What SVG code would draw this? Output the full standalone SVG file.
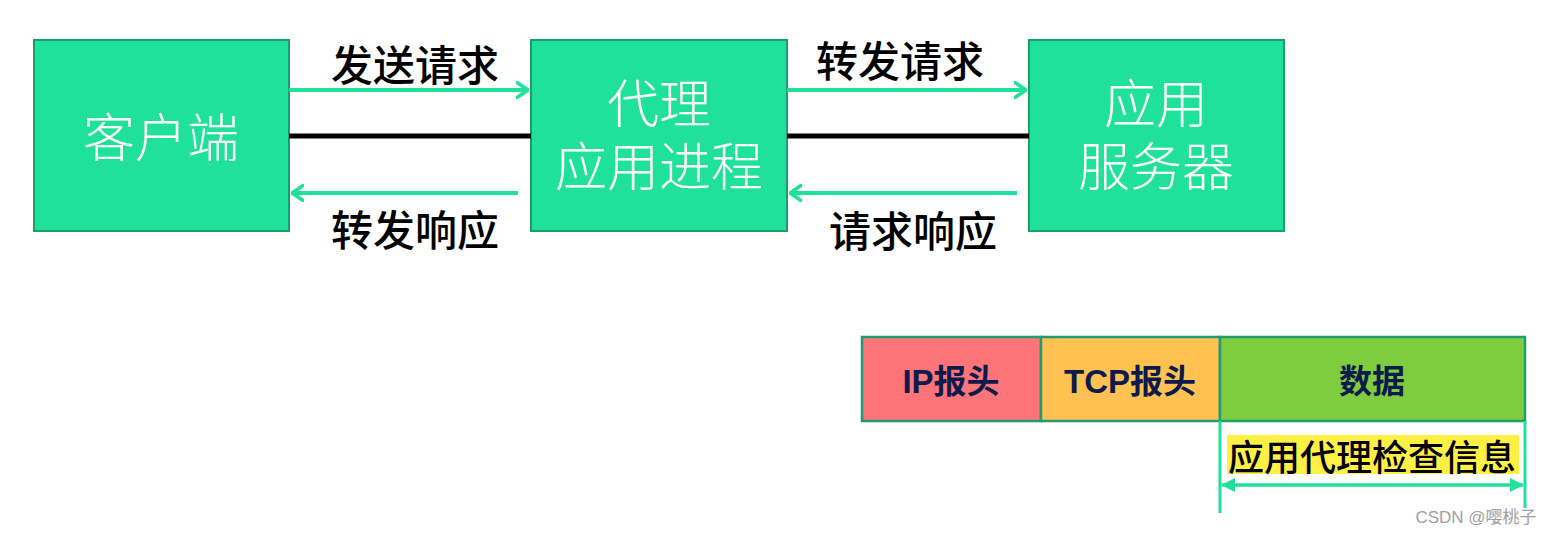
<svg xmlns="http://www.w3.org/2000/svg" width="1556" height="536" viewBox="0 0 1556 536">
<style>
.node{fill:#20E19B;stroke:#1C9E6C;stroke-width:2}
.nt{font-family:"Liberation Sans","Noto Sans CJK SC",sans-serif;font-size:52px;fill:#fff;font-weight:300;text-anchor:middle;dominant-baseline:central}
.lbl{font-family:"Noto Sans CJK SC",sans-serif;font-size:42px;fill:#000;font-weight:500;text-anchor:middle;dominant-baseline:central}
.g{stroke:#20E19B;stroke-width:4;fill:none}
.blk{stroke:#000;stroke-width:5}
.seg{stroke:#1F9C70;stroke-width:2.5}
.st{font-family:"Liberation Sans","Noto Sans CJK SC",sans-serif;font-size:33px;font-weight:bold;fill:#0C1A4C;text-anchor:middle;dominant-baseline:central}
</style>
<defs>
<marker id="open" viewBox="0 0 13 18" refX="12" refY="9" markerWidth="13" markerHeight="18" markerUnits="userSpaceOnUse" orient="auto">
<path d="M1,1.5 L12,9 L1,16.5" fill="none" stroke="#20E19B" stroke-width="3.5" stroke-linecap="round" stroke-linejoin="round"/>
</marker>
<marker id="tri" viewBox="0 0 14 14" refX="13" refY="7" markerWidth="14" markerHeight="14" markerUnits="userSpaceOnUse" orient="auto-start-reverse">
<path d="M0,0 L14,7 L0,14 Z" fill="#20E19B"/>
</marker>
</defs>
<rect width="1556" height="536" fill="#fff"/>
<g id="client"><rect class="node" x="34" y="40" width="255" height="191"/><text class="nt" x="161" y="139">客户端</text></g>
<g id="proxy"><rect class="node" x="531" y="40" width="256" height="191"/><text class="nt" x="659" y="105">代理</text><text class="nt" x="659" y="168">应用进程</text></g>
<g id="server"><rect class="node" x="1029" y="40" width="255" height="191"/><text class="nt" x="1156" y="105">应用</text><text class="nt" x="1156" y="168">服务器</text></g>
<g id="connectors">
<line class="blk" x1="289" y1="136" x2="531" y2="136"/>
<line class="blk" x1="787" y1="136" x2="1029" y2="136"/>
<line class="g" x1="289" y1="90" x2="528" y2="90" marker-end="url(#open)"/>
<line class="g" x1="518" y1="193" x2="292" y2="193" marker-end="url(#open)"/>
<line class="g" x1="787" y1="90" x2="1026" y2="90" marker-end="url(#open)"/>
<line class="g" x1="1017" y1="193" x2="790" y2="193" marker-end="url(#open)"/>
<text class="lbl" x="415" y="62">发送请求</text>
<text class="lbl" x="415" y="227">转发响应</text>
<text class="lbl" x="900" y="58">转发请求</text>
<text class="lbl" x="913" y="228">请求响应</text>
</g>
<g id="packet">
<rect class="seg" x="862" y="337" width="179" height="84" fill="#FF7479"/>
<rect class="seg" x="1041" y="337" width="179" height="84" fill="#FFC152"/>
<rect class="seg" x="1220" y="337" width="305" height="84" fill="#7FCC3E"/>
<text class="st" x="951" y="381">IP报头</text>
<text class="st" x="1130" y="381">TCP报头</text>
<text class="st" x="1372" y="381">数据</text>
</g>
<g id="inspect">
<line x1="1220" y1="421" x2="1220" y2="513" stroke="#20E19B" stroke-width="3"/>
<line x1="1525" y1="421" x2="1525" y2="508" stroke="#20E19B" stroke-width="3"/>
<rect x="1227" y="435" width="292" height="39" fill="#FFF046"/>
<text x="1372" y="455" font-family="Noto Sans CJK SC,sans-serif" font-size="36" font-weight="500" fill="#000" text-anchor="middle" dominant-baseline="central">应用代理检查信息</text>
<line x1="1222" y1="485" x2="1523" y2="485" stroke="#20E19B" stroke-width="3.5" marker-start="url(#tri)" marker-end="url(#tri)"/>
</g>
<text x="1476" y="523" font-family="Liberation Sans,Noto Sans CJK SC,sans-serif" font-size="17" fill="#A0A0A0" text-anchor="middle">CSDN @嘤桃子</text>
</svg>
